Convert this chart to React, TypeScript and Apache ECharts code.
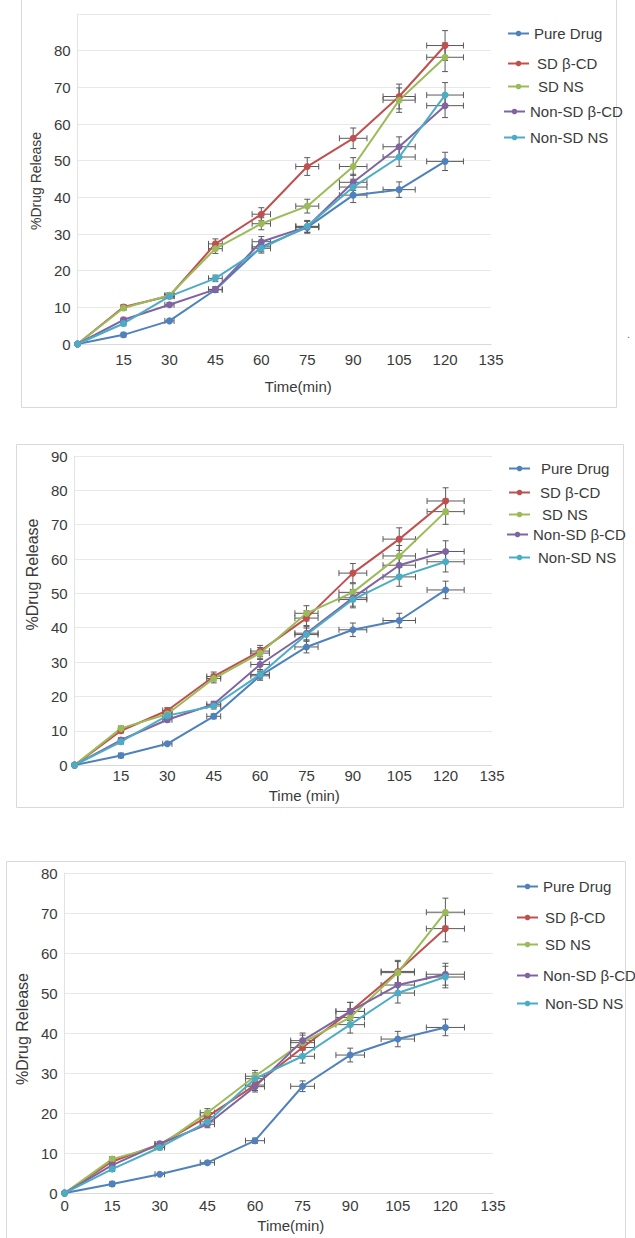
import React, { useEffect, useRef } from 'react';
import * as echarts from 'echarts';

// Sampling times (min) shared by every formulation
const TIME_POINTS = [0, 15, 30, 45, 60, 75, 90, 105, 120];
const SERIES_NAMES = ['Pure Drug', 'SD β-CD', 'SD NS', 'Non-SD β-CD', 'Non-SD NS'];
const SERIES_COLORS = ['#4F81BD', '#C0504D', '#9BBB59', '#8064A2', '#4BACC6'];
// Error bars are drawn as a fixed percentage of each value, on both axes
const ERROR_FRACTION = 0.05;

// Panel A: % drug release
const pureDrugA = [0, 2.5, 6.3, 14.8, 26.5, 31.8, 40.6, 42.1, 49.8];
const sdBetaCdA = [0, 10.1, 13.1, 27.3, 35.4, 48.4, 56.1, 67.5, 81.4];
const sdNsA = [0, 9.8, 13.3, 26.0, 32.8, 37.6, 48.4, 66.5, 78.2];
const nonSdBetaCdA = [0, 6.6, 10.7, 14.9, 27.9, 32.0, 44.1, 53.8, 65.0];
const nonSdNsA = [0, 5.6, 13.0, 17.9, 26.1, 32.1, 42.8, 51.0, 67.9];

// Panel B: % drug release
const pureDrugB = [0, 2.8, 6.2, 14.2, 26.0, 34.4, 39.4, 42.1, 51.0];
const sdBetaCdB = [0, 10.0, 15.9, 25.8, 33.2, 42.8, 55.9, 65.8, 76.9];
const sdNsB = [0, 10.7, 14.9, 25.2, 32.6, 44.2, 50.3, 60.9, 73.8];
const nonSdBetaCdB = [0, 7.3, 13.2, 17.7, 29.3, 38.4, 48.7, 58.2, 62.2];
const nonSdNsB = [0, 6.8, 14.4, 17.2, 26.4, 38.0, 48.2, 54.8, 59.2];

// Panel C: % drug release
const pureDrugC = [0, 2.3, 4.7, 7.6, 13.1, 26.7, 34.5, 38.5, 41.4];
const sdBetaCdC = [0, 7.9, 12.2, 19.1, 27.0, 36.4, 45.4, 55.4, 66.1];
const sdNsC = [0, 8.5, 11.8, 20.1, 29.2, 37.6, 43.9, 55.1, 70.2];
const nonSdBetaCdC = [0, 7.0, 12.3, 17.2, 26.6, 38.1, 45.4, 52.0, 54.7];
const nonSdNsC = [0, 6.0, 11.4, 17.8, 28.6, 34.2, 42.1, 50.0, 54.0];

const FONT = '"Liberation Sans", Arial, Helvetica, sans-serif';
const TEXT_COLOR = '#3a3a3a';

type LegendSlot = { top: number; left: number; pad: number };

type PanelConfig = {
  box: { left: number; top: number; width: number; height: number };
  frame: { width: number; height: number };
  grid: { left: number; top: number; width: number; height: number };
  values: number[][];
  yMax: number;
  hideYMaxLabel: boolean;
  hideXZeroLabel: boolean;
  xName: string;
  xLabelMargin: number;
  xNameGap: number;
  xNamePad: number[];
  yNameGap: number;
  yNameSize: number;
  yNamePad: number[];
  legend: LegendSlot[];
  legendItemWidth: number;
  extraText?: { x: number; y: number; text: string };
};

function errorBarSeries(name: string, points: number[][]) {
  return {
    type: 'custom',
    name: name + ' error',
    data: points,
    silent: true,
    z: 3,
    renderItem: (_params: any, api: any) => {
      const x = api.value(0);
      const y = api.value(1);
      const cap = 3;
      const style = { stroke: '#5a5a5a', lineWidth: 1 };
      const children: any[] = [];
      if (y > 0) {
        const hi = api.coord([x, y * (1 + ERROR_FRACTION)]);
        const lo = api.coord([x, y * (1 - ERROR_FRACTION)]);
        children.push({ type: 'line', shape: { x1: hi[0], y1: hi[1], x2: lo[0], y2: lo[1] }, style });
        children.push({ type: 'line', shape: { x1: hi[0] - cap, y1: hi[1], x2: hi[0] + cap, y2: hi[1] }, style });
        children.push({ type: 'line', shape: { x1: lo[0] - cap, y1: lo[1], x2: lo[0] + cap, y2: lo[1] }, style });
      }
      if (x > 0) {
        const right = api.coord([x * (1 + ERROR_FRACTION), y]);
        const left = api.coord([x * (1 - ERROR_FRACTION), y]);
        children.push({ type: 'line', shape: { x1: left[0], y1: left[1], x2: right[0], y2: right[1] }, style });
        children.push({ type: 'line', shape: { x1: left[0], y1: left[1] - cap, x2: left[0], y2: left[1] + cap }, style });
        children.push({ type: 'line', shape: { x1: right[0], y1: right[1] - cap, x2: right[0], y2: right[1] + cap }, style });
      }
      return { type: 'group', children };
    },
  };
}

function buildOption(cfg: PanelConfig) {
  const series: any[] = [];
  SERIES_NAMES.forEach((name, i) => {
    const points = TIME_POINTS.map((t, k) => [t, cfg.values[i][k]]);
    series.push({
      type: 'line',
      name,
      data: points,
      symbol: 'circle',
      symbolSize: 7,
      z: 3,
      lineStyle: { width: 2, color: SERIES_COLORS[i] },
      itemStyle: { color: SERIES_COLORS[i] },
    });
    series.push(errorBarSeries(name, points));
  });

  const legends = SERIES_NAMES.map((name, i) => ({
    data: [name],
    left: cfg.legend[i].left,
    top: cfg.legend[i].top,
    padding: 0,
    itemWidth: cfg.legendItemWidth,
    itemHeight: 7,
    selectedMode: false,
    textStyle: {
      fontSize: 15,
      color: TEXT_COLOR,
      fontFamily: FONT,
      padding: [0, 0, 0, cfg.legend[i].pad],
    },
  }));

  const graphic: any[] = [
    {
      type: 'rect',
      silent: true,
      shape: { x: 0.5, y: 0.5, width: cfg.frame.width - 1, height: cfg.frame.height - 1 },
      style: { fill: 'none', stroke: '#d9d9d9', lineWidth: 1 },
    },
  ];
  if (cfg.extraText) {
    graphic.push({
      type: 'text',
      silent: true,
      x: cfg.extraText.x,
      y: cfg.extraText.y,
      style: { text: cfg.extraText.text, fontSize: 11, fill: '#666', fontFamily: FONT },
    });
  }

  return {
    animation: false,
    backgroundColor: 'transparent',
    color: SERIES_COLORS,
    grid: { ...cfg.grid, containLabel: false },
    legend: legends,
    graphic,
    xAxis: {
      type: 'value',
      min: 0,
      max: 135,
      interval: 15,
      name: cfg.xName,
      nameLocation: 'middle',
      nameGap: cfg.xNameGap,
      nameTextStyle: { fontSize: 15, color: TEXT_COLOR, fontFamily: FONT, padding: cfg.xNamePad },
      axisLine: { show: true, lineStyle: { color: '#d9d9d9', width: 1 } },
      axisTick: { show: false },
      splitLine: { show: false },
      axisLabel: {
        fontSize: 15,
        color: TEXT_COLOR,
        fontFamily: FONT,
        margin: cfg.xLabelMargin,
        showMinLabel: true,
        showMaxLabel: true,
        formatter: (v: number) => (v === 0 && cfg.hideXZeroLabel ? '' : String(v)),
      },
    },
    yAxis: {
      type: 'value',
      min: 0,
      max: cfg.yMax,
      interval: 10,
      name: '%Drug Release',
      nameLocation: 'middle',
      nameRotate: 90,
      nameGap: cfg.yNameGap,
      nameTextStyle: { fontSize: cfg.yNameSize, color: TEXT_COLOR, fontFamily: FONT, padding: cfg.yNamePad },
      axisLine: { show: true, lineStyle: { color: '#e3e3e3', width: 1 } },
      axisTick: { show: false },
      splitLine: { show: true, lineStyle: { color: '#e8e8e8', width: 1 } },
      axisLabel: {
        fontSize: 15,
        color: TEXT_COLOR,
        fontFamily: FONT,
        margin: 7,
        formatter: (v: number) => (v === cfg.yMax && cfg.hideYMaxLabel ? '' : String(v)),
      },
    },
    series,
  };
}

const PANELS: PanelConfig[] = [
  {
    box: { left: 21, top: -2, width: 614, height: 410 },
    frame: { width: 596, height: 410 },
    grid: { left: 53, top: 16, width: 417, height: 330 },
    values: [pureDrugA, sdBetaCdA, sdNsA, nonSdBetaCdA, nonSdNsA],
    yMax: 90,
    hideYMaxLabel: true,
    hideXZeroLabel: true,
    xName: 'Time(min)',
    xLabelMargin: 8,
    xNameGap: 35,
    xNamePad: [0, 0, 0, 28],
    yNameGap: 23,
    yNameSize: 14,
    yNamePad: [0, 4, 0, 0],
    legend: [
      { top: 28, left: 486, pad: 0 },
      { top: 58, left: 486, pad: 3 },
      { top: 81, left: 486, pad: 4 },
      { top: 106, left: 482, pad: 0 },
      { top: 132, left: 482, pad: 0 },
    ],
    legendItemWidth: 21,
    extraText: { x: 606, y: 330, text: '.' },
  },
  {
    box: { left: 16, top: 444, width: 619, height: 364 },
    frame: { width: 608, height: 364 },
    grid: { left: 55, top: 12, width: 421, height: 311 },
    values: [pureDrugB, sdBetaCdB, sdNsB, nonSdBetaCdB, nonSdNsB],
    yMax: 90,
    hideYMaxLabel: false,
    hideXZeroLabel: true,
    xName: 'Time (min)',
    xLabelMargin: 3,
    xNameGap: 18,
    xNamePad: [0, 0, 0, 42],
    yNameGap: 30,
    yNameSize: 16,
    yNamePad: [0, 0, 0, 72],
    legend: [
      { top: 17, left: 492, pad: 6 },
      { top: 41, left: 492, pad: 5 },
      { top: 63, left: 492, pad: 7 },
      { top: 83, left: 490, pad: 0 },
      { top: 106, left: 492, pad: 3 },
    ],
    legendItemWidth: 21,
  },
  {
    box: { left: 6, top: 861, width: 629, height: 377 },
    frame: { width: 620, height: 400 },
    grid: { left: 54, top: 12, width: 433, height: 322 },
    values: [pureDrugC, sdBetaCdC, sdNsC, nonSdBetaCdC, nonSdNsC],
    yMax: 80,
    hideYMaxLabel: false,
    hideXZeroLabel: false,
    xName: 'Time(min)',
    xLabelMargin: 5,
    xNameGap: 24,
    xNamePad: [0, 0, 0, 24],
    yNameGap: 29,
    yNameSize: 16,
    yNamePad: [0, 0, 0, 8],
    legend: [
      { top: 18, left: 510, pad: 0 },
      { top: 49, left: 510, pad: 2 },
      { top: 76, left: 510, pad: 2 },
      { top: 107, left: 510, pad: 0 },
      { top: 135, left: 510, pad: 2 },
    ],
    legendItemWidth: 21,
  },
];

function ReleasePanel({ cfg }: { cfg: PanelConfig }) {
  const ref = useRef<HTMLDivElement>(null);
  useEffect(() => {
    if (!ref.current) return;
    const chart = echarts.init(ref.current, undefined, { renderer: 'svg' });
    chart.setOption(buildOption(cfg) as any);
    return () => chart.dispose();
  }, [cfg]);
  return (
    <div
      ref={ref}
      style={{
        position: 'absolute',
        left: cfg.box.left,
        top: cfg.box.top,
        width: cfg.box.width,
        height: cfg.box.height,
      }}
    />
  );
}

export default function App() {
  return (
    <div
      style={{
        position: 'absolute',
        left: 0,
        top: 0,
        width: 635,
        height: 1238,
        overflow: 'hidden',
        background: '#ffffff',
      }}
    >
      {PANELS.map((cfg, i) => (
        <ReleasePanel key={i} cfg={cfg} />
      ))}
    </div>
  );
}
